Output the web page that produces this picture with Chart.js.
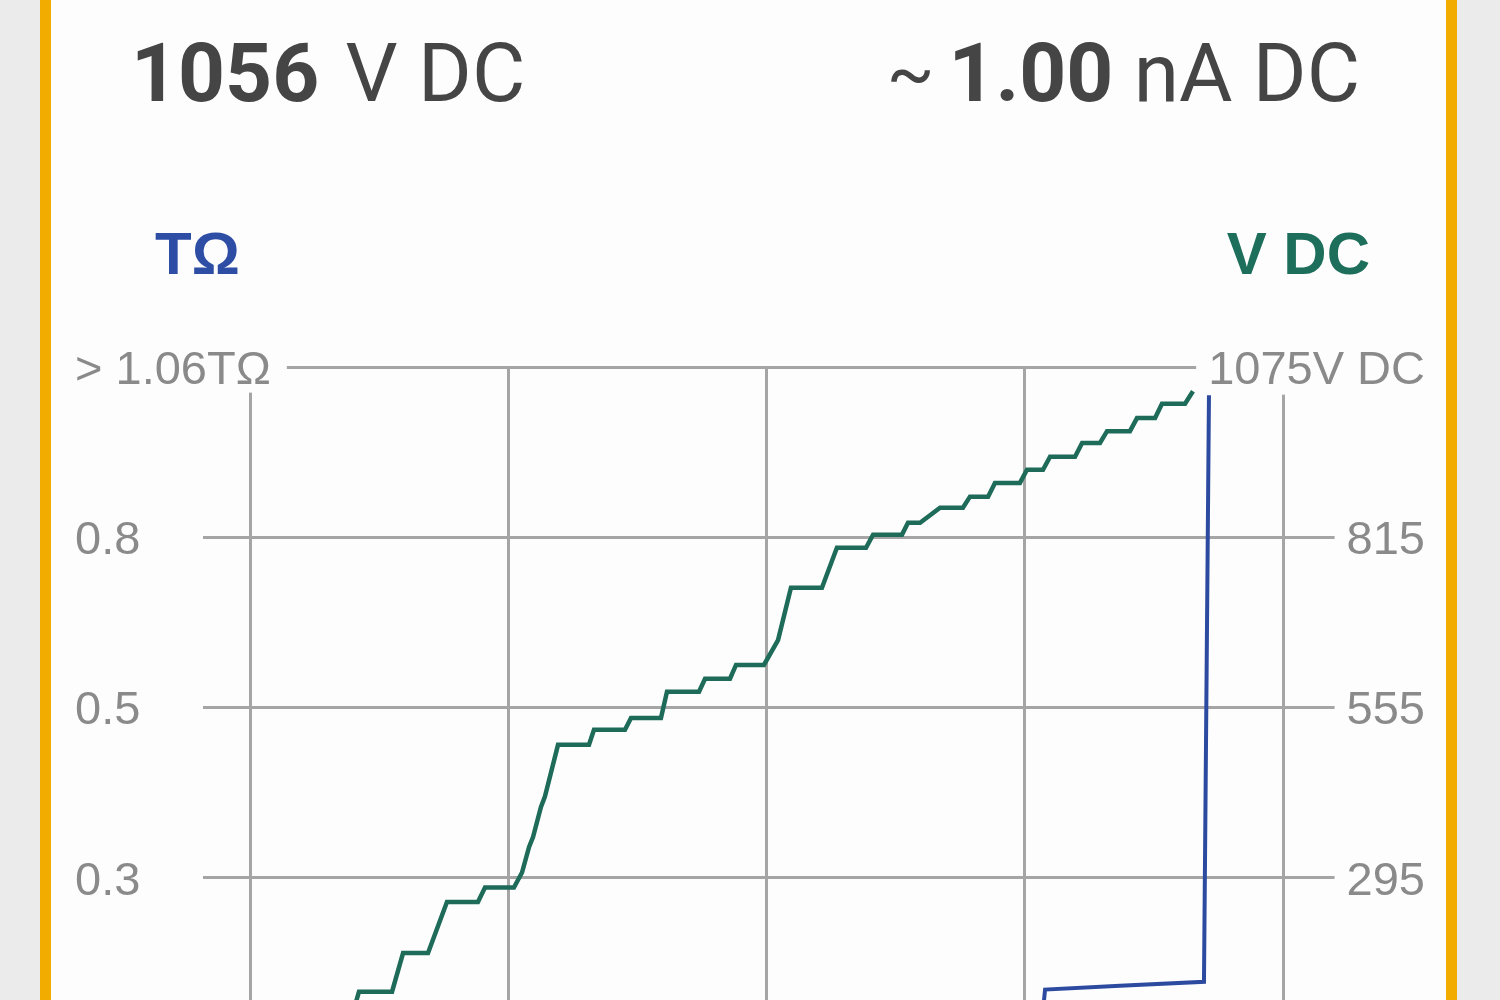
<!DOCTYPE html>
<html>
<head>
<meta charset="utf-8">
<script src="https://cdn.jsdelivr.net/npm/chart.js@4/dist/chart.umd.min.js"></script>
<style>
  html, body { margin: 0; padding: 0; width: 1500px; height: 1000px; overflow: hidden; background: #ebebeb; font-family: "Liberation Sans", Arial, sans-serif; }
  #card { position: absolute; left: 40px; top: -40px; width: 1417px; height: 1200px; box-sizing: border-box; border: 11px solid #F2AC00; background: #fdfdfd; }
  .hdr { position: absolute; top: 32px; font-family: Roboto, "Liberation Sans", sans-serif; font-size: 82px; line-height: 1; color: #454545; white-space: nowrap; }
  .hdr b { font-weight: bold; }
  .unitgap { margin-left: 6px; }
  .tilde { font-size: 70px; margin-right: 14px; position: relative; top: -4px; }
  .unit { position: absolute; top: 224px; font-size: 60px; line-height: 1; font-weight: bold; white-space: nowrap; }
  #wrap { position: absolute; left: 0; top: 300px; width: 1500px; height: 800px; }
</style>
</head>
<body>
<div id="card"></div>
<div class="hdr" style="left:131px;"><b>1056</b> <span class="unitgap">V DC</span></div>
<div class="hdr" style="right:140px;"><span class="tilde">~</span><b>1.00</b> nA DC</div>
<div class="unit" style="left:155px; color:#2e4ea6;">TΩ</div>
<div class="unit" style="right:130px; color:#1e6e5c;">V DC</div>
<div id="wrap"><canvas id="c"></canvas></div>
<script>
// ---- data ----
const greenTime = [0, 3.95, 4.65, 5.69, 6.33, 8.25, 8.89, 10.34, 11.44, 13.24, 13.65, 15.33, 15.80, 16.21, 16.44, 16.90, 17.13, 17.89, 19.69, 19.98, 21.78, 22.13, 23.87, 24.22, 26.08, 26.43, 27.88, 28.23, 29.85, 30.67, 31.42, 33.22, 34.09, 35.78, 36.19, 37.87, 38.22, 38.92, 40.08, 41.41, 41.82, 42.87, 43.27, 44.72, 45.13, 46.06, 46.47, 47.92, 48.33, 49.37, 49.78, 51.11, 51.52, 52.57, 52.97, 54.31, 54.77];
const greenVolts = [38, 38, 63, 63, 121, 121, 180, 180, 258, 258, 280, 280, 303, 342, 357, 403, 419, 498, 498, 521, 521, 539, 539, 579, 579, 599, 599, 620, 620, 658, 738, 738, 799, 799, 819, 819, 837, 837, 860, 860, 877, 877, 898, 898, 918, 918, 938, 938, 959, 959, 977, 977, 997, 997, 1019, 1019, 1038];
const blueTime = [45.6, 45.89, 46.18, 50.53, 55.41, 55.70];
const blueTOhm = [0.0, 0.013, 0.091, 0.097, 0.103, 1.016];

const timeTicks = [0, 15, 30, 45, 60];
const leftTickValues = [0, 0.265, 0.53, 0.795, 1.06];
const leftTickLabels = ['0.0', '0.3', '0.5', '0.8', '> 1.06TΩ'];
const rightTickValues = [35, 295, 555, 815, 1075];
const rightTickLabels = ['35', '295', '555', '815', '1075V DC'];

const GRID = '#a5a5a5';
const TICKFONT = { family: '"Liberation Sans", Arial, sans-serif', size: 47, lineHeight: 0.92 };

new Chart(document.getElementById('c'), {
  type: 'line',
  data: {
    datasets: [
      {
        label: 'V DC',
        data: greenTime.map((t, i) => ({ x: t, y: greenVolts[i] })),
        yAxisID: 'yV',
        borderColor: '#1d6b58',
        borderWidth: 4.5,
        pointRadius: 0,
        tension: 0,
        fill: false
      },
      {
        label: 'TΩ',
        data: blueTime.map((t, i) => ({ x: t, y: blueTOhm[i] })),
        yAxisID: 'yR',
        borderColor: '#2c4aa0',
        borderWidth: 4,
        pointRadius: 0,
        tension: 0,
        fill: false
      }
    ]
  },
  options: {
    responsive: true,
    maintainAspectRatio: false,
    animation: false,
    events: [],
    layout: { padding: { left: 75, right: 75, top: 67, bottom: 52 } },
    plugins: { legend: { display: false }, tooltip: { enabled: false }, title: { display: false } },
    scales: {
      x: {
        type: 'linear',
        min: 0, max: 60,
        afterBuildTicks: s => { s.ticks = timeTicks.map(v => ({ value: v })); },
        afterFit: s => { s.height = 0; },
        ticks: { display: false },
        grid: { color: GRID, lineWidth: 3, drawTicks: false },
        border: { display: false }
      },
      yR: {
        type: 'linear',
        position: 'left',
        min: 0, max: 1.06,
        afterBuildTicks: s => { s.ticks = leftTickValues.map(v => ({ value: v })); },
        afterFit: s => { s.width = 175; s._computeLabelArea = () => undefined; },
        ticks: {
          crossAlign: 'far',
          labelOffset: 4,
          color: '#8a8a8a',
          font: TICKFONT,
          showLabelBackdrop: true,
          backdropColor: '#fdfdfd',
          backdropPadding: { top: 0, bottom: 0, left: 14, right: 16 },
          callback: (v, i) => leftTickLabels[i]
        },
        grid: { color: GRID, lineWidth: 3, tickLength: 47 },
        border: { display: false }
      },
      yV: {
        type: 'linear',
        position: 'right',
        min: 35, max: 1075,
        afterBuildTicks: s => { s.ticks = rightTickValues.map(v => ({ value: v })); },
        afterFit: s => { s.width = 142; s._computeLabelArea = () => undefined; },
        ticks: {
          crossAlign: 'far',
          labelOffset: 4,
          color: '#8a8a8a',
          font: TICKFONT,
          showLabelBackdrop: true,
          backdropColor: '#fdfdfd',
          backdropPadding: { top: 0, bottom: 2, left: 12, right: 12 },
          callback: (v, i) => rightTickLabels[i]
        },
        grid: { color: GRID, lineWidth: 3, tickLength: 52, drawOnChartArea: false },
        border: { display: false }
      }
    }
  }
});
</script>
</body>
</html>
